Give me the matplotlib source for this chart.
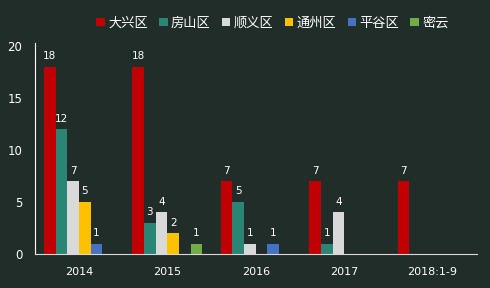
import numpy as np
import matplotlib
matplotlib.use("Agg")
import matplotlib.pyplot as plt

plt.rcParams['font.family'] = ['Noto Sans CJK SC', 'DejaVu Sans']

# dati
anni = ['2014', '2015', '2016', '2017', '2018:1-9']
serie = ['大兴区', '房山区', '顺义区', '通州区', '平谷区', '密云']
colori = ['#c00000', '#2a8574', '#d9d9d9', '#ffc000', '#4472c4', '#70ad47']
daxing = [18, 18, 7, 7, 7]
fangshan = [12, 3, 5, 1, np.nan]
shunyi = [7, 4, 1, 4, np.nan]
tongzhou = [5, 2, np.nan, np.nan, np.nan]
pinggu = [1, np.nan, 1, np.nan, np.nan]
miyun = [np.nan, 1, np.nan, np.nan, np.nan]
valori = [daxing, fangshan, shunyi, tongzhou, pinggu, miyun]

sfondo = '#212d29'

fig = plt.figure(figsize=(4.9, 2.88), dpi=100, facecolor=sfondo)
ax = fig.add_axes([0.071, 0.118, 0.902, 0.722], facecolor=sfondo)

x = np.arange(len(anni))
w = 0.132
for i in range(len(serie)):
    pos = x + (i - 2.5) * w
    b = ax.bar(pos, valori[i], w, color=colori[i], label=serie[i])
    etich = ['' if np.isnan(v) else '%d' % v for v in valori[i]]
    ax.bar_label(b, labels=etich, padding=4, color='white', fontsize=7.5,
                 family='DejaVu Sans')

ax.set_xlim(-0.5, len(anni) - 0.5)
ax.set_ylim(0, 20)
ax.set_yticks([0, 5, 10, 15, 20])
ax.set_xticks(x)
ax.set_xticklabels(anni)
ax.tick_params(length=0, colors='white', labelsize=8.5)
ax.tick_params(axis='x', pad=9, labelsize=8)
ax.tick_params(axis='y', pad=9)
for t in ax.get_xticklabels() + ax.get_yticklabels():
    t.set_family('DejaVu Sans')

for s in ['top', 'right']:
    ax.spines[s].set_visible(False)
ax.spines['left'].set_color('white')
ax.spines['bottom'].set_color('#d9d9d9')
ax.spines['left'].set_bounds(0, 20.3)

leg = fig.legend(loc='center', bbox_to_anchor=(0.556, 0.92), ncol=6, frameon=False,
                 handlelength=0.65, handleheight=0.65, handletextpad=0.25,
                 columnspacing=0.85, fontsize=9.5)
for t in leg.get_texts():
    t.set_color('white')

fig.savefig('out.png', dpi=100, facecolor=sfondo)
